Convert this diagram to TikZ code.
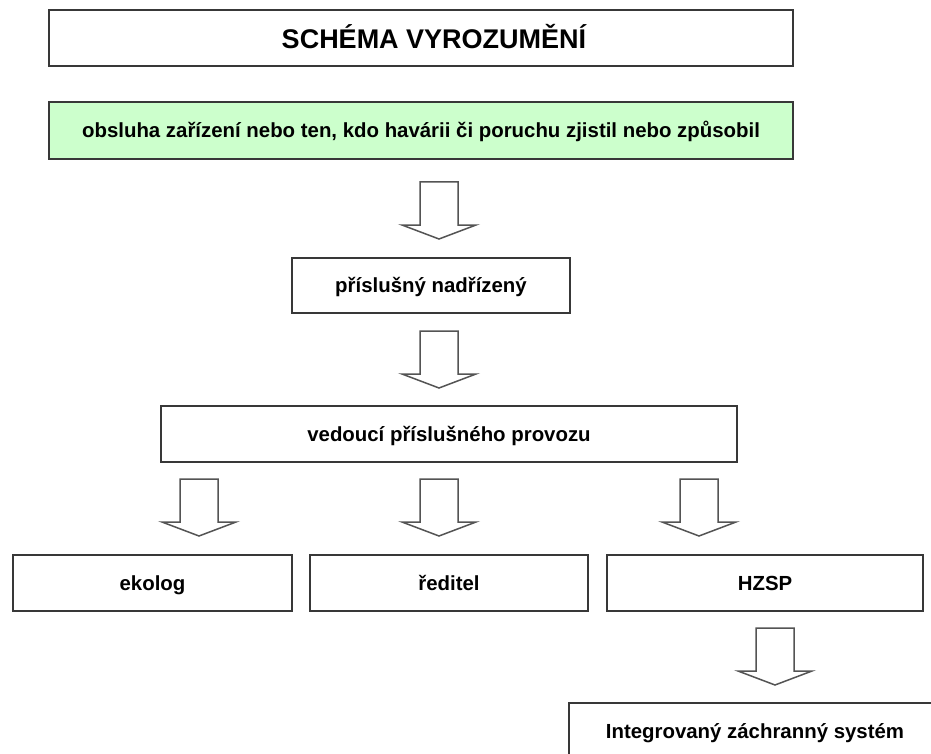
\documentclass[tikz,border=0pt]{standalone}
\usepackage{fontspec}
\setmainfont{Liberation Sans}
\usepackage{xcolor}
\usepackage{tikz}
\usetikzlibrary{positioning,calc}
\definecolor{lightgreen}{rgb}{0.80, 1.00, 0.80}
\definecolor{boxgray}{rgb}{0.22, 0.22, 0.22}
\definecolor{arrgray}{rgb}{0.33, 0.33, 0.33}
\def\txt{\fontsize{20.4}{24}\selectfont\bfseries}
\def\blk(#1){\draw[arr] (#1) ++(-19,0) -- ++(0,43) -- ++(-18,0) -- ++(37,14) -- ++(37,-14) -- ++(-18,0) -- ++(0,-43) -- cycle;}
\tikzstyle{box} = [draw=boxgray, line width=1.6pt, minimum height=56pt, inner sep=0pt, text height=14.7pt, text depth=0pt, font=\txt]
\tikzstyle{arr} = [draw=arrgray, line width=1.5pt, line join=miter]

\begin{document}
\begin{tikzpicture}[x=1pt,y=-1pt]
      \clip (0,0) rectangle (931,754);
      \fill[white] (0,0) rectangle (931,754);
      % boxes
      \node (title) at (421,38) [box, minimum width=744pt] {};
      \node (titletext) at (434,39) [inner sep=0pt, text height=19.4pt, text depth=0pt, font=\fontsize{27}{30}\selectfont\bfseries] {SCHÉMA VYROZUMĚNÍ};
      \node (b1) at (421,130.5) [box, fill=lightgreen, minimum width=744pt, minimum height=57pt] {obsluha zařízení nebo ten, kdo havárii či poruchu zjistil nebo způsobil};
      \node (b2) at (431,285.5) [box, minimum width=278pt, minimum height=55pt] {příslušný nadřízený};
      \node (b3) at (449,434) [box, minimum width=576pt] {vedoucí příslušného provozu};
      \node (b4) at (152.5,583) [box, minimum width=279pt] {ekolog};
      \node (b5) at (449,583) [box, minimum width=278pt] {ředitel};
      \node (b6) at (765,583) [box, minimum width=316pt] {HZSP};
      \node (b7) at (755,731.5) [box, minimum width=372pt, minimum height=57pt] {Integrovaný záchranný systém};
      % arrow tops
      \coordinate (a1) at (439,182);
      \coordinate (a2) at (439,331);
      \coordinate (a3) at (199,479);
      \coordinate (a4) at (439,479);
      \coordinate (a5) at (699,479);
      \coordinate (a6) at (775,628);
      \blk(a1)
      \blk(a2)
      \blk(a3)
      \blk(a4)
      \blk(a5)
      \blk(a6)
\end{tikzpicture}
\end{document}
